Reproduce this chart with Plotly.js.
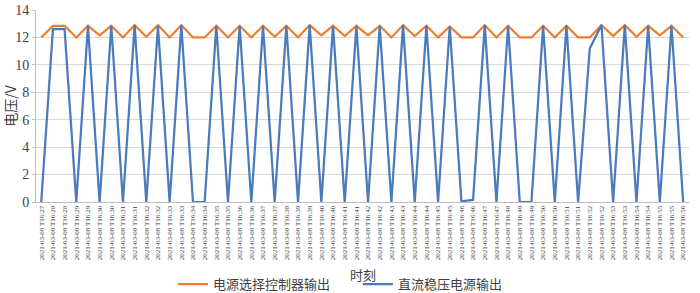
<!DOCTYPE html>
<html>
<head>
<meta charset="utf-8">
<script src="https://cdn.plot.ly/plotly-3.0.1.min.js"></script>
<style>html,body{margin:0;padding:0;background:#fff;}#chart{width:700px;height:293px;}</style>
</head>
<body>
<div id="chart"></div>
<script>
// Minute part of the time stamp for every sample (date prefix shared)
const minuteLabels = [27, 28, 28, 29, 29, 30, 30, 31, 31, 32, 32, 33, 33, 34, 34, 35, 35, 36, 36, 37, 37, 38, 39, 39, 40, 40, 41, 41, 42, 42, 43, 43, 44, 44, 45, 45, 46, 46, 47, 47, 48, 49, 49, 50, 50, 51, 51, 52, 52, 53, 53, 54, 54, 55, 55, 56];
const tickLabels = minuteLabels.map(m => "2021-03-08 T16:" + m);

const seriesNames = ["电源选择控制器输出", "直流稳压电源输出"];
const xTitle = "时刻";
const yTitle = "电压/V";

const controllerOut = [12.0, 12.85, 12.85, 12.0, 12.85, 12.15, 12.85, 12.0, 12.9, 12.05,
  12.9, 12.0, 12.9, 12.0, 12.0, 12.85, 12.0, 12.85, 12.0, 12.85,
  12.05, 12.85, 12.0, 12.9, 12.15, 12.85, 12.1, 12.85, 12.15, 12.85,
  12.0, 12.9, 12.1, 12.85, 12.0, 12.8, 12.0, 12.0, 12.9, 12.0,
  12.85, 12.0, 12.0, 12.85, 12.0, 12.85, 12.0, 12.0, 12.9, 12.1,
  12.9, 12.05, 12.85, 12.15, 12.85, 12.0];

const dcSupplyOut = [0, 12.6, 12.6, 0, 12.85, 0, 12.85, 0, 12.9, 0,
  12.85, 0, 12.9, 0, 0, 12.85, 0, 12.85, 0, 12.85,
  0, 12.85, 0, 12.9, 0, 12.85, 0, 12.85, 0, 12.85,
  0, 12.9, 0, 12.85, 0, 12.8, 0.05, 0.15, 12.9, 0,
  12.85, 0, 0, 12.85, 0, 12.85, 0, 11.2, 12.9, 0,
  12.9, 0, 12.85, 0, 12.85, 0];

const idx = tickLabels.map((_, i) => i);

const traces = [
  {x: idx, y: controllerOut, name: seriesNames[0], type: "scatter", mode: "lines",
   line: {color: "#ED7D31", width: 2.25}},
  {x: idx, y: dcSupplyOut, name: seriesNames[1], type: "scatter", mode: "lines",
   line: {color: "#4A7BBA", width: 2.25}}
];

const serif = "Liberation Serif, Times New Roman, Noto Sans CJK SC, serif";
const cjk = "Noto Sans CJK SC, Liberation Serif, sans-serif";

const layout = {
  width: 700, height: 293,
  margin: {l: 36, r: 11, t: 10, b: 91},
  paper_bgcolor: "#ffffff", plot_bgcolor: "#ffffff",
  showlegend: true,
  legend: {orientation: "h", xref: "container", x: 0.247, xanchor: "left",
    yref: "container", y: 0.03, yanchor: "middle",
    font: {family: cjk, size: 13, color: "#404040"}, traceorder: "normal",
    itemwidth: 30, entrywidth: 140, tracegroupgap: 0},
  annotations: [{
    text: xTitle, xref: "paper", yref: "paper", x: 0.5, y: -0.375,
    xanchor: "center", yanchor: "middle", showarrow: false,
    font: {family: cjk, size: 13, color: "#404040"}
  }],
  xaxis: {
    range: [-0.45, 55.5],
    tickmode: "array", tickvals: idx, ticktext: tickLabels, tickangle: -90,
    tickfont: {family: serif, size: 7, color: "#404040"},
    showgrid: false, zeroline: false,
    showline: true, linecolor: "#bfbfbf", linewidth: 1,
    ticks: "", automargin: false
  },
  yaxis: {
    range: [0, 14], dtick: 2,
    tickfont: {family: serif, size: 14, color: "#404040"},
    showgrid: true, gridcolor: "#d9d9d9", gridwidth: 1,
    zeroline: false, showline: true, linecolor: "#bfbfbf", linewidth: 1,
    ticks: "outside", ticklen: 3, tickcolor: "#bfbfbf",
    automargin: false,
    title: {text: yTitle, font: {family: cjk, size: 14, color: "#404040"}, standoff: 4}
  }
};

Plotly.newPlot("chart", traces, layout, {displayModeBar: false, staticPlot: true});
</script>
</body>
</html>
